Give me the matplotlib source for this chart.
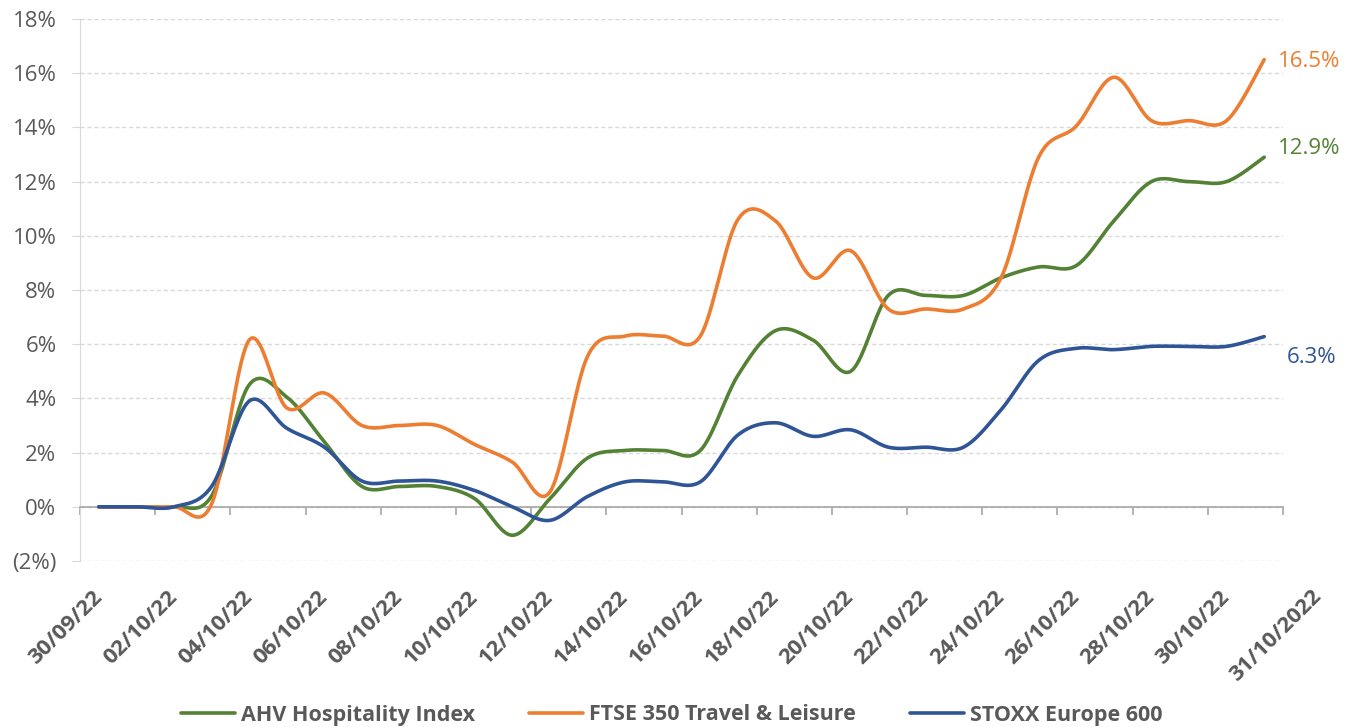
import numpy as np
import matplotlib.pyplot as plt
from matplotlib.ticker import FuncFormatter, FixedLocator

# daily values, 30/09/22 .. 31/10/22 (weekends carry the Friday value)
days = ["30/09/22", "01/10/22", "02/10/22", "03/10/22", "04/10/22", "05/10/22",
        "06/10/22", "07/10/22", "08/10/22", "09/10/22", "10/10/22", "11/10/22",
        "12/10/22", "13/10/22", "14/10/22", "15/10/22", "16/10/22", "17/10/22",
        "18/10/22", "19/10/22", "20/10/22", "21/10/22", "22/10/22", "23/10/22",
        "24/10/22", "25/10/22", "26/10/22", "27/10/22", "28/10/22", "29/10/22",
        "30/10/22", "31/10/2022"]

ahv = [0.0, 0.0, 0.0, 0.4, 4.5, 4.05, 2.4, 0.75, 0.75, 0.75, 0.3, -1.05,
       0.3, 1.8, 2.08, 2.08, 2.08, 4.85, 6.5, 6.15, 5.0, 7.8, 7.8, 7.8,
       8.45, 8.85, 8.9, 10.55, 12.0, 12.0, 12.0, 12.9]
ftse = [0.0, 0.0, 0.0, 0.1, 6.15, 3.65, 4.2, 3.0, 3.0, 3.0, 2.3, 1.65,
        0.55, 5.55, 6.3, 6.3, 6.3, 10.6, 10.55, 8.45, 9.45, 7.3, 7.3, 7.3,
        8.45, 12.9, 14.05, 15.85, 14.25, 14.25, 14.25, 16.5]
stoxx = [0.0, 0.0, 0.0, 0.75, 3.9, 2.9, 2.2, 0.95, 0.95, 0.95, 0.6, 0.0,
         -0.5, 0.38, 0.92, 0.92, 0.92, 2.65, 3.1, 2.6, 2.84, 2.2, 2.2, 2.2,
         3.58, 5.4, 5.85, 5.8, 5.92, 5.92, 5.92, 6.28]

names = ["AHV Hospitality Index", "FTSE 350 Travel & Leisure", "STOXX Europe 600"]
end_labels = ["12.9%", "16.5%", "6.3%"]

GREEN = "#548235"
ORANGE = "#ED7D31"
BLUE = "#2F5597"
GREY = "#595959"


def smooth(x, y, n=40):
    # excel-like smoothed line: cubic bezier through every point
    x = np.asarray(x, float)
    y = np.asarray(y, float)
    px = np.concatenate([[x[0]], x, [x[-1]]])
    py = np.concatenate([[y[0]], y, [y[-1]]])
    t = np.linspace(0, 1, n)[:, None]
    xs, ys = [], []
    for i in range(len(x) - 1):
        p0 = np.array([px[i + 1], py[i + 1]])
        p3 = np.array([px[i + 2], py[i + 2]])
        c1 = p0 + (p3 - np.array([px[i], py[i]])) / 6
        c2 = p3 - (np.array([px[i + 3], py[i + 3]]) - p0) / 6
        b = (1 - t) ** 3 * p0 + 3 * (1 - t) ** 2 * t * c1 + 3 * (1 - t) * t ** 2 * c2 + t ** 3 * p3
        xs.append(b[:, 0])
        ys.append(b[:, 1])
    return np.concatenate(xs), np.concatenate(ys)


plt.rcParams['font.family'] = ['Open Sans', 'DejaVu Sans']

fig = plt.figure(figsize=(13.57, 7.27), dpi=100)
ax = fig.add_axes([80 / 1357, 1 - 561 / 727, 1203 / 1357, 542 / 727])

x = np.arange(len(days))
series = [(ahv, GREEN), (ftse, ORANGE), (stoxx, BLUE)]
for (vals, col), name in zip(series, names):
    sx, sy = smooth(x, vals)
    ax.plot(sx, sy, color=col, lw=2.6, label=name, solid_capstyle='round', zorder=3)

# end-of-series labels
offsets = [(10, 6), (10, -1), (16, -15)]
for (vals, col), lab, off in zip(series, end_labels, offsets):
    ax.annotate(lab, (x[-1], vals[-1]), xytext=off, textcoords='offset points',
                color=col, fontsize=16, ha='left', va='center', annotation_clip=False)

ax.set_xlim(-0.5, len(days) - 0.5)
ax.set_ylim(-2, 18)
ax.set_yticks(np.arange(-2, 19, 2))
ax.yaxis.set_major_formatter(FuncFormatter(lambda v, p: f"({abs(v):.0f}%)" if v < 0 else f"{v:.0f}%"))
ax.grid(axis='y', color='#D9D9D9', linestyle=(0, (3, 2)), lw=1)
ax.set_axisbelow(True)
ax.tick_params(axis='y', length=6, color='#D9D9D9', labelsize=16, labelcolor=GREY, pad=11)

for s in ['top', 'right']:
    ax.spines[s].set_visible(False)
ax.spines['left'].set_color('#D9D9D9')
ax.spines['bottom'].set_position(('data', 0))
ax.spines['bottom'].set_color('#A6A6A6')
ax.spines['bottom'].set_linewidth(1.2)

# labels every two days, tick marks between categories
ax.xaxis.set_major_locator(FixedLocator(x[:-1:2]))
ax.set_xticklabels(days[:-1:2])
ax.xaxis.set_minor_locator(FixedLocator(np.arange(-0.5, len(days), 2)))
ax.tick_params(axis='x', which='major', length=0, pad=63, labelsize=16, labelcolor=GREY)
ax.tick_params(axis='x', which='minor', length=6, width=1.2, color='#A6A6A6', direction='out')
for lab in ax.get_xticklabels():
    lab.set_rotation(45)
    lab.set_ha('right')
    lab.set_va('center')
    lab.set_rotation_mode('anchor')
    lab.set_fontweight('bold')

ax.annotate(days[-1], (x[-1], 0), xytext=(39, -62), textcoords='offset points',
            rotation=45, ha='right', va='center', rotation_mode='anchor',
            fontsize=16, fontweight='bold', color=GREY, annotation_clip=False)

leg = fig.legend(loc='center', bbox_to_anchor=(0.495, 1 - 715 / 727), ncol=3, frameon=False,
                 handlelength=2.5, handletextpad=0.3, columnspacing=2.5,
                 prop={'size': 15.5, 'weight': 'bold'})
for t in leg.get_texts():
    t.set_color(GREY)

fig.savefig('out.png', dpi=100)
